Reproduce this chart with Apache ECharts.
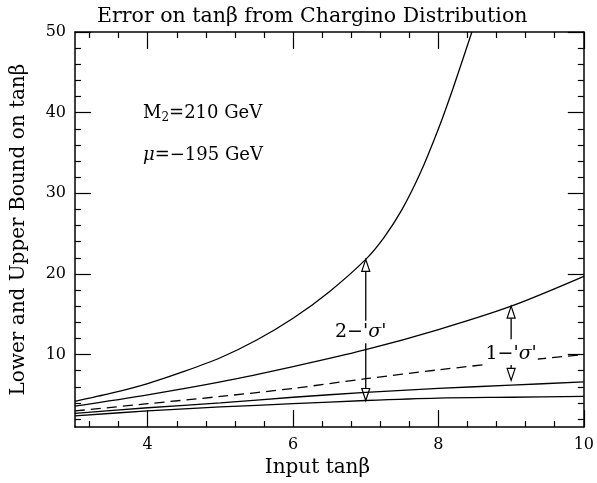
<!DOCTYPE html>
<html>
<head>
<meta charset="utf-8">
<script src="https://cdn.jsdelivr.net/npm/echarts@6/dist/echarts.min.js"></script>
<style>html,body{margin:0;padding:0;background:#fff}#c{width:597px;height:483px}</style>
</head>
<body>
<div id="c"></div>
<script>
// ---- data ----
const upper2X = [3, 3.5, 4, 4.5, 5, 5.5, 6, 6.5, 7, 7.25, 7.5, 7.75, 8.0, 8.2, 8.46];
const upper2Y = [4.2, 5.2, 6.4, 7.9, 9.6, 11.8, 14.5, 17.8, 21.8, 24.5, 28, 32.5, 38, 43, 50];
const upper1X = [3, 4, 5, 6, 7, 8, 9, 10];
const upper1Y = [3.6, 5.0, 6.6, 8.5, 10.6, 13.1, 16.0, 19.7];
const centralX = [3, 4, 5, 6, 7, 8, 9, 10];
const centralY = [3.0, 3.9, 4.8, 5.8, 7.0, 8.1, 9.1, 10.0];
const lower1X = [3, 4, 5, 6, 7, 8, 9, 10];
const lower1Y = [2.7, 3.4, 4.0, 4.7, 5.3, 5.8, 6.2, 6.6];
const lower2X = [3, 4, 5, 6, 7, 8, 9, 10];
const lower2Y = [2.4, 3.0, 3.5, 3.9, 4.3, 4.6, 4.7, 4.8];

// arrows: x, start value, tip value
const arrowX = [7, 7, 9, 9];
const arrowFrom = [14.2, 11.4, 11.9, 8.9];
const arrowTo = [21.8, 4.3, 16.0, 6.8];

// annotations
const sigmaLabels = ["2", "1"];
const sigmaLabelX = [6.93, 9.0];
const sigmaLabelY = [12.8, 10.0];

const xMajor = [4, 6, 8, 10];
const xMinor = [3.2, 3.6, 4.4, 4.8, 5.2, 5.6, 6.4, 6.8, 7.2, 7.6, 8.4, 8.8, 9.2, 9.6];
const yMajor = [10, 20, 30, 40, 50];
const yMinor = [2, 4, 6, 8, 12, 14, 16, 18, 22, 24, 26, 28, 32, 34, 36, 38, 42, 44, 46, 48];

const X_MIN = 3, X_MAX = 10, Y_MIN = 1, Y_MAX = 50;

// ---- chart ----
const FONT = 'DejaVu Serif';
const pairs = (xs, ys) => xs.map((x, i) => [x, ys[i]]);

function xAx(pos, ticks, len, labels, line) {
  return {
    type: 'value', position: pos, min: X_MIN, max: X_MAX, gridIndex: 0,
    axisLine: { show: line, onZero: false, lineStyle: { color: '#000', width: 1.5 } },
    axisTick: { show: true, inside: true, length: len, customValues: ticks, lineStyle: { color: '#000', width: 1.2 } },
    axisLabel: labels ? { show: true, customValues: ticks, margin: 10, color: '#000', fontFamily: FONT, fontSize: 16 } : { show: false },
    splitLine: { show: false }
  };
}
function yAx(pos, ticks, len, labels, line) {
  return {
    type: 'value', position: pos, min: Y_MIN, max: Y_MAX, gridIndex: 0,
    axisLine: { show: line, onZero: false, lineStyle: { color: '#000', width: 1.5 } },
    axisTick: { show: true, inside: true, length: len, customValues: ticks, lineStyle: { color: '#000', width: 1.2 } },
    axisLabel: labels ? { show: true, customValues: ticks, margin: 9, color: '#000', fontFamily: FONT, fontSize: 16 } : { show: false },
    splitLine: { show: false }
  };
}

const xAxes = [
  Object.assign(xAx('bottom', xMajor, 17, true, true), {
    name: 'Input tan\u03b2', nameLocation: 'middle', nameGap: 27,
    nameTextStyle: { color: '#000', fontFamily: FONT, fontSize: 20, padding: [0, 24, 0, 0] }
  }),
  xAx('bottom', xMinor, 6, false, false),
  xAx('top', xMajor, 17, false, true),
  xAx('top', xMinor, 6, false, false)
];
const yAxes = [
  Object.assign(yAx('left', yMajor, 16, true, true), {
    name: 'Lower and Upper Bound on tan\u03b2', nameLocation: 'middle', nameGap: 46,
    nameTextStyle: { color: '#000', fontFamily: FONT, fontSize: 20 }
  }),
  yAx('left', yMinor, 6, false, false),
  yAx('right', yMajor, 16, false, true),
  yAx('right', yMinor, 6, false, false)
];

function lineSeries(xs, ys, dashed) {
  return {
    type: 'line', xAxisIndex: 0, yAxisIndex: 0, data: pairs(xs, ys),
    smooth: 0.3, showSymbol: false, symbol: 'none', clip: true, animation: false,
    lineStyle: { color: '#000', width: 1.3, type: dashed ? [10, 6] : 'solid' }
  };
}

const arrowData = arrowX.map((x, i) => [x, arrowFrom[i], arrowTo[i]]);
const arrowSeries = {
  type: 'custom', xAxisIndex: 0, yAxisIndex: 0, data: arrowData, animation: false,
  renderItem: function (params, api) {
    const p0 = api.coord([api.value(0), api.value(1)]);
    const p1 = api.coord([api.value(0), api.value(2)]);
    const dir = p1[1] < p0[1] ? -1 : 1; // -1 up
    const headLen = 12, headW = 4;
    const base = p1[1] - dir * headLen;
    return {
      type: 'group',
      children: [
        { type: 'line', shape: { x1: p0[0], y1: p0[1], x2: p0[0], y2: base },
          style: { stroke: '#000', lineWidth: 1.3 } },
        { type: 'polygon', shape: { points: [[p1[0], p1[1]], [p1[0] - headW, base], [p1[0] + headW, base]] },
          style: { fill: '#fff', stroke: '#000', lineWidth: 1.2 } }
      ]
    };
  }
};

const labelData = sigmaLabels.map((t, i) => [sigmaLabelX[i], sigmaLabelY[i], t]);
const labelSeries = {
  type: 'custom', xAxisIndex: 0, yAxisIndex: 0, data: labelData, animation: false, z: 5,
  renderItem: function (params, api) {
    const p = api.coord([api.value(0), api.value(1)]);
    return {
      type: 'text', x: p[0], y: p[1],
      style: {
        text: '{n|' + labelData[params.dataIndex][2] + "\u2212'}{s|\u03c3}{n|'}",
        align: 'center', verticalAlign: 'middle', backgroundColor: '#fff', padding: [1, 1],
        rich: {
          n: { fontFamily: FONT, fontSize: 19, fill: '#000' },
          s: { fontFamily: FONT, fontSize: 19, fontStyle: 'italic', fill: '#000' }
        }
      }
    };
  }
};

const chart = echarts.init(document.getElementById('c'), null, { renderer: 'canvas' });
chart.setOption({
  backgroundColor: '#fff',
  animation: false,
  title: {
    text: 'Error on tan\u03b2 from Chargino Distribution', left: 92, top: 1,
    textStyle: { color: '#000', fontFamily: FONT, fontSize: 20.5, fontWeight: 'normal' }
  },
  grid: { left: 75, right: 9, top: 32, bottom: 55, show: false },
  xAxis: xAxes,
  yAxis: yAxes,
  graphic: [
    { type: 'text', left: 143, top: 104,
      style: { text: '{a|M}{s|2}{a|=210 GeV}', fill: '#000',
        rich: { a: { fontFamily: FONT, fontSize: 18, fill: '#000' }, s: { fontFamily: FONT, fontSize: 12, fill: '#000', padding: [10, 0, 0, 0] } } } },
    { type: 'text', left: 143, top: 146,
      style: { text: '{m|\u03bc}{a|=\u2212195 GeV}', fill: '#000',
        rich: { m: { fontFamily: FONT, fontSize: 18, fontStyle: 'italic', fill: '#000' }, a: { fontFamily: FONT, fontSize: 18, fill: '#000' } } } }
  ],
  series: [
    lineSeries(upper2X, upper2Y, false),
    lineSeries(upper1X, upper1Y, false),
    lineSeries(centralX, centralY, true),
    lineSeries(lower1X, lower1Y, false),
    lineSeries(lower2X, lower2Y, false),
    arrowSeries,
    labelSeries
  ]
});
</script>
</body>
</html>
